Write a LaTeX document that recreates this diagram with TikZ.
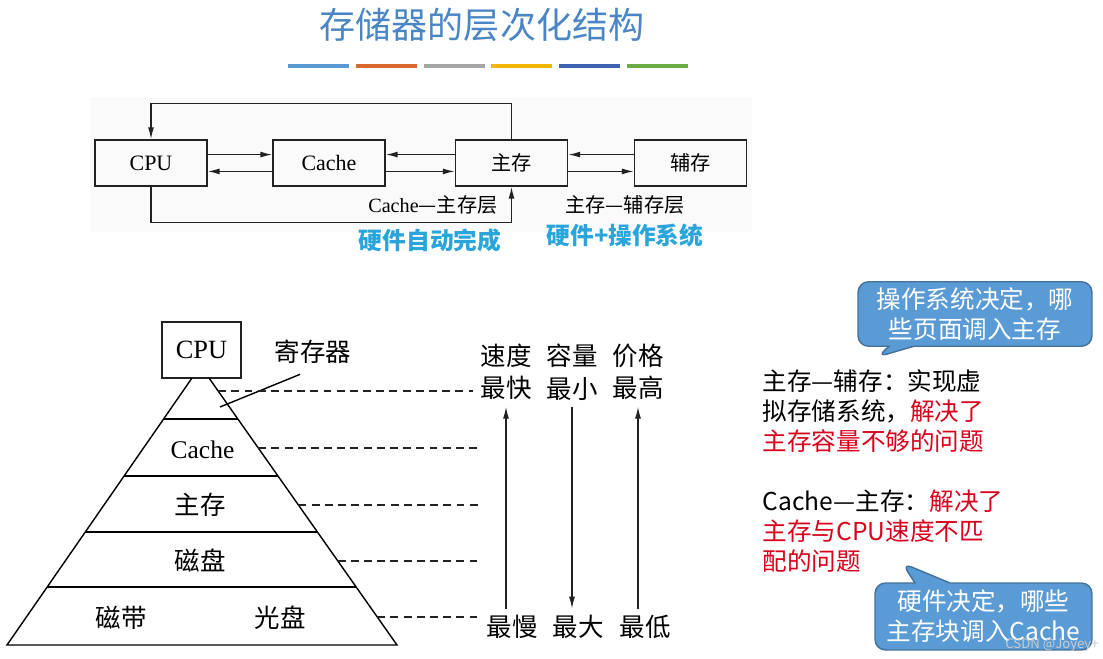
\documentclass[tikz,border=0pt]{standalone}
\usepackage{fontspec}
\setmainfont{Liberation Serif}
\newfontfamily\cjk{Noto Sans CJK SC}
\usetikzlibrary{arrows.meta, positioning, calc, shapes.callouts}
\definecolor{ctitle}{HTML}{4A86C5}
\definecolor{ccyan}{HTML}{2AA5DC}
\definecolor{cred}{HTML}{D9001B}
\definecolor{ccall}{HTML}{5B9BD5}
\definecolor{ccallline}{HTML}{41719C}
\definecolor{cline}{HTML}{222222}
\definecolor{bblue}{HTML}{5B9BD5}
\definecolor{borange}{HTML}{D9692F}
\definecolor{bgrey}{HTML}{A5A5A5}
\definecolor{byellow}{HTML}{F2B705}
\definecolor{bnavy}{HTML}{4062B2}
\definecolor{bgreen}{HTML}{6AAE45}
\tikzset{
  every picture/.style={line width=0.8pt},
  unit/.style={draw=cline, minimum width=2.24cm, minimum height=0.92cm, font=\fontsize{12.5}{14}\selectfont},
  arr/.style={-{Latex[length=2.4mm, width=1.2mm]}, draw=cline},
  tag/.style={font=\fontsize{11.5}{14}\selectfont},
  hint/.style={font=\cjk\fontsize{13.5}{16}\selectfont\bfseries, text=ccyan},
  layer/.style={font=\fontsize{14.5}{18.5}\selectfont, align=center},
  zhlayer/.style={font=\cjk\fontsize{14.5}{18.5}\selectfont, align=center},
  level/.style={dash pattern=on 4.5pt off 3pt, draw=cline},
  note/.style={font=\cjk\fontsize{14}{17.2}\selectfont, align=left, inner sep=0pt, anchor=north west},
  bubble/.style={rectangle callout, fill=ccall, draw=ccallline, rounded corners=6pt, text=white, align=center, font=\cjk\fontsize{14}{17}\selectfont},
}

\begin{document}
\begin{tikzpicture}[x=0.02cm, y=-0.02cm]
  \useasboundingbox[fill=white] (0,0) rectangle (1103,659);
  \node[font=\cjk\fontsize{20.5}{24}\selectfont, text=ctitle] (title) at (482,25) {存储器的层次化结构};
  \foreach \c [count=\i from 0] in {bblue,borange,bgrey,byellow,bnavy,bgreen}
    \draw[\c, line width=2.8pt] (288+\i*67.8,66) -- ++(61,0);
  \fill[black!2] (90,97) rectangle (752,232);
  \node[unit] (cpu) at (151,163) {CPU};
  \node[unit] (cache) at (329,163) {Cache};
  \node[unit] (mem) at (511.5,163) {\cjk\fontsize{11.5}{14}\selectfont 主存};
  \node[unit] (aux) at (690.5,163) {\cjk\fontsize{11.5}{14}\selectfont 辅存};
  \draw[arr] ([yshift=4.8pt]cpu.east) -- ([yshift=4.8pt]cache.west);
  \draw[arr] ([yshift=-4.8pt]cache.west) -- ([yshift=-4.8pt]cpu.east);
  \draw[arr] ([yshift=4.8pt]mem.west) -- ([yshift=4.8pt]cache.east);
  \draw[arr] ([yshift=-4.8pt]cache.east) -- ([yshift=-4.8pt]mem.west);
  \draw[arr] ([yshift=4.8pt]aux.west) -- ([yshift=4.8pt]mem.east);
  \draw[arr] ([yshift=-4.8pt]mem.east) -- ([yshift=-4.8pt]aux.west);
  \draw[arr] (mem.north) -- ++(0,-36) -| (cpu.north);
  \draw[arr] (cpu.south) -- ++(0,36) -| (mem.south);
  \node[tag, anchor=east] (l2) at (504,205) {Cache\cjk —主存层};
  \node[tag] (vm) at (625,205) {\cjk 主存—辅存层};
  \node[hint] (hw) at (430,240) {硬件自动完成};
  \node[hint] (hwos) at (625,235) {硬件+操作系统};

  \node[draw=cline, minimum width=1.58cm, minimum height=1.12cm, font=\fontsize{15}{17}\selectfont] (cpu2) at (201.5,350) {CPU};
  \coordinate (tl) at (192,378); \coordinate (tr) at (209,378);
  \coordinate (bl) at (7,645); \coordinate (br) at (397,645);
  \draw (tl) -- (bl) -- (br) -- (tr);
  \foreach \t in {0.1536,0.367,0.577,0.783}
    \draw ($(tl)!\t!(bl)$) -- ($(tr)!\t!(br)$);
  \node[layer] (c) at (202.5,450) {Cache};
  \node[zhlayer] (m) at (200,505) {主存};
  \node[zhlayer] (d) at (200,560) {磁盘};
  \node[zhlayer] (tp) at (121,618) {磁带};
  \node[zhlayer] (od) at (280,618) {光盘};
  \node[zhlayer] (reg) at (313,352) {寄存器};
  \coordinate (regtip) at (220,407);
  \draw ([shift={(-13,4)}]reg.south) -- (regtip);
  \foreach \t/\e [count=\i] in {0.0487/473,0.262/482,0.4757/482,0.685/478,0.895/478} {
    \coordinate (d\i) at ($(tr)!\t!(br)$);
    \draw[level] (d\i) -- (d\i -| \e,0);
  }

  \node[zhlayer] (spd) at (506,372) {速度\\最快};
  \node[zhlayer] (cap) at (572,372) {容量\\最小};
  \node[zhlayer] (prc) at (638,372) {价格\\最高};
  \node[zhlayer] (spdlo) at (512,627) {最慢};
  \node[zhlayer] (caplo) at (578,627) {最大};
  \node[zhlayer] (prclo) at (645,627) {最低};
  \draw[arr] (spd.south |- spdlo.north) -- (spd.south);
  \draw[arr] (cap.south) -- (cap.south |- caplo.north);
  \draw[arr] (prc.south |- prclo.north) -- (prc.south);

  \coordinate (tipA) at (877,357);
  \node[bubble, minimum width=4.68cm, minimum height=1.24cm, callout pointer width=0.5cm, callout absolute pointer={(tipA)}] (osbub) at (975,314) {操作系统决定，哪\\些页面调入主存};
  \node[note] (vmnote) at (762,369) {主存—辅存：实现虚\\拟存储系统，\textcolor{cred}{解决了}\\\textcolor{cred}{主存容量不够的问题}};
  \node[note] (l2note) at (762,489) {Cache—主存：\textcolor{cred}{解决了}\\\textcolor{cred}{主存与CPU速度不匹}\\\textcolor{cred}{配的问题}};
  \coordinate (tipB) at (902,563);
  \node[bubble, minimum width=4.34cm, minimum height=1.34cm, callout pointer width=0.7cm, callout absolute pointer={(tipB)}] (hwbub) at (983.5,616.5) {硬件决定，哪些\\主存块调入Cache};
  \node[font=\cjk\fontsize{7.5}{9}\selectfont, text=white!80!black] (wm) at (1052,645) {CSDN @Joyey+};
\end{tikzpicture}
\end{document}
